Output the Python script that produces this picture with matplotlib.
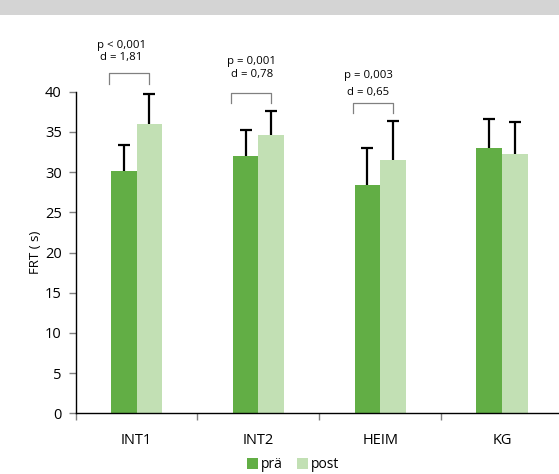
import numpy as np
import matplotlib
matplotlib.use("Agg")
import matplotlib.pyplot as plt
from matplotlib.patches import Rectangle

plt.rcParams['font.family'] = ['Open Sans', 'DejaVu Sans']

# data
groups = ['INT1', 'INT2', 'HEIM', 'KG']
pre_mean = [30.1, 32.0, 28.4, 33.0]
pre_sd = [3.3, 3.3, 4.6, 3.6]
post_mean = [36.0, 34.6, 31.5, 32.3]
post_sd = [3.7, 3.0, 4.8, 3.9]
series_names = ['prä', 'post']
p_labels = ['p < 0,001', 'p = 0,001', 'p = 0,003']
d_labels = ['d = 1,81', 'd = 0,78', 'd = 0,65']

green_dark = '#62ae45'
green_light = '#c2e0b4'

fig = plt.figure(figsize=(5.59, 4.74), dpi=100)
# grey band on top
fig.patches.append(Rectangle((0, 1 - 15 / 474), 1, 15 / 474, transform=fig.transFigure,
                             facecolor='#d4d4d4', edgecolor='none'))

ax = fig.add_axes([0.1354, 0.128, 0.8716, 0.6785])
x = np.arange(len(groups))
w = 0.21

err_kw = dict(elinewidth=1.6, capthick=1.6, capsize=4.3, ecolor='black')
b1 = ax.bar(x - w / 2, pre_mean, w, color=green_dark, label=series_names[0],
            yerr=[np.zeros(len(pre_sd)), pre_sd], error_kw=err_kw)
b2 = ax.bar(x + w / 2, post_mean, w, color=green_light, label=series_names[1],
            yerr=[np.zeros(len(post_sd)), post_sd], error_kw=err_kw)
# only the upper caps
for b in (b1, b2):
    caps = b.errorbar.lines[1]
    caps[0].set_visible(False)

ax.set_xlim(-0.5, 3.5)
ax.set_ylim(0, 40)
ax.set_yticks(range(0, 41, 5))
ax.set_xticks(x)
ax.set_xticklabels(groups, fontsize=10.5)
ax.set_xticks(np.arange(-0.5, 3.0, 1.0), minor=True)
ax.tick_params(axis='x', which='major', length=0, pad=14)
ax.tick_params(axis='x', which='minor', length=5, color='#808080', width=1)
ax.tick_params(axis='y', length=5, color='#808080', width=1, labelsize=10.5, pad=5)
ax.spines['top'].set_visible(False)
ax.spines['right'].set_visible(False)
ax.spines['left'].set_linewidth(1.0)
ax.spines['bottom'].set_linewidth(1.0)
ax.set_ylabel('FRT ( s)', fontsize=9.5, labelpad=2)

# significance brackets
br_top = [42.3, 39.9, 38.6]
br_drop = 1.3
txt_x = [-0.123, -0.053, -0.096]
p_y = [45.8, 43.7, 42.0]
d_y = [44.2, 42.2, 39.9]
for i in range(3):
    x0 = x[i] - w - 0.015
    x1 = x[i] + w / 2
    ax.plot([x0, x0, x1, x1], [br_top[i] - br_drop, br_top[i], br_top[i], br_top[i] - br_drop],
            color='#808080', lw=0.9, clip_on=False)
    ax.text(x[i] + txt_x[i], p_y[i], p_labels[i], ha='center', va='center', fontsize=8.2)
    ax.text(x[i] + txt_x[i], d_y[i], d_labels[i], ha='center', va='center', fontsize=8.2)

fig.legend(loc='center', bbox_to_anchor=(293 / 559, 1 - 465 / 474), ncol=2, frameon=False,
           fontsize=10, handlelength=0.8, handleheight=0.8, handletextpad=0.2,
           columnspacing=1.0)

fig.savefig('out.png', dpi=100)
